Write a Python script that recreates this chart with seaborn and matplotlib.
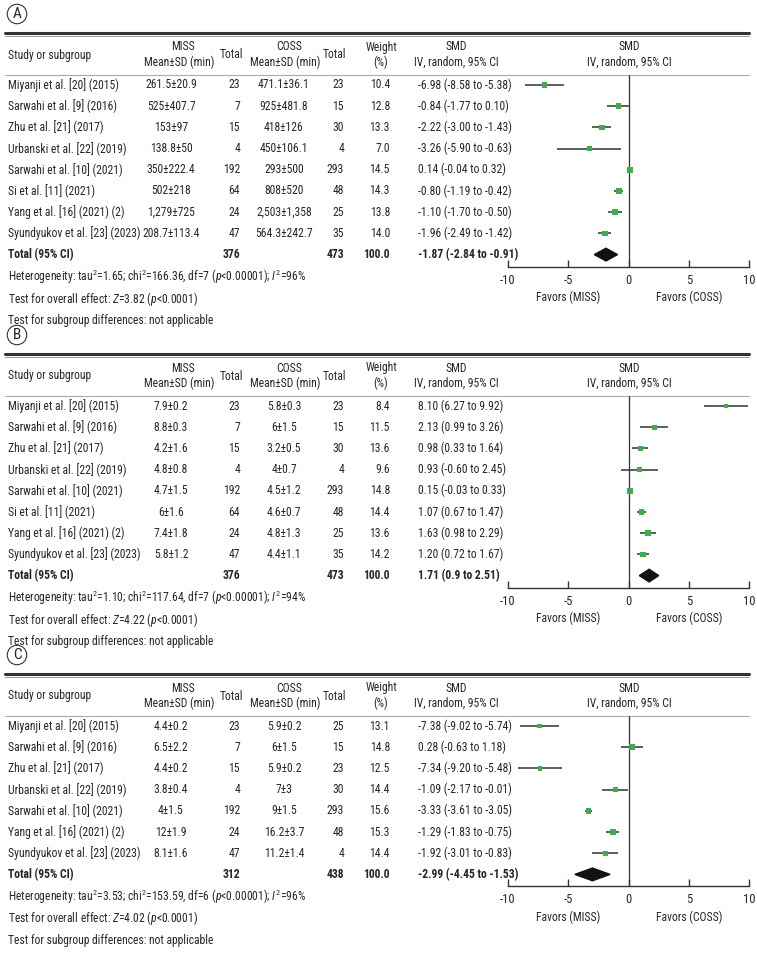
import matplotlib
matplotlib.use("Agg")
import matplotlib.pyplot as plt
from matplotlib import font_manager
import seaborn as sns
import pandas as pd

sns.set_theme(style="white")
installed = {f.name for f in font_manager.fontManager.ttflist}
if "Roboto Condensed" in installed:
    family, fs = "Roboto Condensed", 8.4
else:
    family, fs = "Roboto", 7.3
plt.rcParams["font.family"] = [family, "DejaVu Sans"]
plt.rcParams["mathtext.fontset"] = "custom"
plt.rcParams["mathtext.rm"] = family
plt.rcParams["mathtext.it"] = family + ":italic"

#%% data
studies8 = ["Miyanji et al. [20] (2015)", "Sarwahi et al. [9] (2016)", "Zhu et al. [21] (2017)",
            "Urbanski et al. [22] (2019)", "Sarwahi et al. [10] (2021)", "Si et al. [11] (2021)",
            "Yang et al. [16] (2021) (2)", "Syundyukov et al. [23] (2023)"]
studies7 = [s for s in studies8 if not s.startswith("Si ")]

# panel A
miss_a = ["261.5±20.9", "525±407.7", "153±97", "138.8±50", "350±222.4", "502±218", "1,279±725", "208.7±113.4"]
miss_n_a = [23, 7, 15, 4, 192, 64, 24, 47]
coss_a = ["471.1±36.1", "925±481.8", "418±126", "450±106.1", "293±500", "808±520", "2,503±1,358", "564.3±242.7"]
coss_n_a = [23, 15, 30, 4, 293, 48, 25, 35]
weight_a = [10.4, 12.8, 13.3, 7.0, 14.5, 14.3, 13.8, 14.0]
smd_a = [-6.98, -0.84, -2.22, -3.26, 0.14, -0.80, -1.10, -1.96]
lo_a = [-8.58, -1.77, -3.00, -5.90, -0.04, -1.19, -1.70, -2.49]
hi_a = [-5.38, 0.10, -1.43, -0.63, 0.32, -0.42, -0.50, -1.42]

# panel B
miss_b = ["7.9±0.2", "8.8±0.3", "4.2±1.6", "4.8±0.8", "4.7±1.5", "6±1.6", "7.4±1.8", "5.8±1.2"]
miss_n_b = [23, 7, 15, 4, 192, 64, 24, 47]
coss_b = ["5.8±0.3", "6±1.5", "3.2±0.5", "4±0.7", "4.5±1.2", "4.6±0.7", "4.8±1.3", "4.4±1.1"]
coss_n_b = [23, 15, 30, 4, 293, 48, 25, 35]
weight_b = [8.4, 11.5, 13.6, 9.6, 14.8, 14.4, 13.6, 14.2]
smd_b = [8.10, 2.13, 0.98, 0.93, 0.15, 1.07, 1.63, 1.20]
lo_b = [6.27, 0.99, 0.33, -0.60, -0.03, 0.67, 0.98, 0.72]
hi_b = [9.92, 3.26, 1.64, 2.45, 0.33, 1.47, 2.29, 1.67]

# panel C
miss_c = ["4.4±0.2", "6.5±2.2", "4.4±0.2", "3.8±0.4", "4±1.5", "12±1.9", "8.1±1.6"]
miss_n_c = [23, 7, 15, 4, 192, 24, 47]
coss_c = ["5.9±0.2", "6±1.5", "5.9±0.2", "7±3", "9±1.5", "16.2±3.7", "11.2±1.4"]
coss_n_c = [25, 15, 23, 30, 293, 48, 4]
weight_c = [13.1, 14.8, 12.5, 14.4, 15.6, 15.3, 14.4]
smd_c = [-7.38, 0.28, -7.34, -1.09, -3.33, -1.29, -1.92]
lo_c = [-9.02, -0.63, -9.20, -2.17, -3.61, -1.83, -3.01]
hi_c = [-5.74, 1.18, -5.48, -0.01, -3.05, -0.75, -0.83]

# totals
labels = ["A", "B", "C"]
tot_miss_n = [376, 376, 312]
tot_coss_n = [473, 473, 438]
tot_smd = [-1.87, 1.71, -2.99]
tot_lo = [-2.84, 0.9, -4.45]
tot_hi = [-0.91, 2.51, -1.53]
tot_text = ["-1.87 (-2.84 to -0.91)", "1.71 (0.9 to 2.51)", "-2.99 (-4.45 to -1.53)"]
tau2 = ["1.65", "1.10", "3.53"]
chi2 = ["166.36", "117.64", "153.59"]
dfs = [7, 7, 6]
i2 = [96, 94, 96]
zval = ["3.82", "4.22", "4.02"]

panels = [
    (studies8, miss_a, miss_n_a, coss_a, coss_n_a, weight_a, smd_a, lo_a, hi_a),
    (studies8, miss_b, miss_n_b, coss_b, coss_n_b, weight_b, smd_b, lo_b, hi_b),
    (studies7, miss_c, miss_n_c, coss_c, coss_n_c, weight_c, smd_c, lo_c, hi_c),
]

#%% layout (pixels)
W, H = 757, 965
offsets = [0, 321, 641]
step = 21.2
plot_l, plot_r = 508, 749
green = "#3dae4a"
dark = "#333333"

fig = plt.figure(figsize=(W / 100, H / 100), dpi=100)
bg = fig.add_axes([0, 0, 1, 1])
bg.set_xlim(0, W)
bg.set_ylim(H, 0)
bg.axis("off")

for p, (studies, miss, miss_n, coss, coss_n, weight, smd, lo, hi) in enumerate(panels):
    o = offsets[p]
    n = len(studies)
    row_y = lambda i: o + 85 + step * i

    # panel label
    bg.text(17, o + 14, labels[p], ha="center", va="center", fontsize=11, color="#222",
            bbox=dict(boxstyle="circle,pad=0.18", fc="white", ec="#333", lw=0.8))
    # rules
    bg.plot([5, plot_r], [o + 33, o + 33], color=dark, lw=2.2)
    bg.plot([5, plot_r], [o + 36, o + 36], color="#999999", lw=0.7)
    bg.plot([5, plot_r], [o + 75, o + 75], color="#aaaaaa", lw=0.8)

    # headers
    hy1, hy2, hym = o + 47, o + 62, o + 55
    bg.text(8, hym, "Study or subgroup", ha="left", va="center", fontsize=fs)
    bg.text(183, hy1, "MISS", ha="center", va="center", fontsize=fs)
    bg.text(179, hy2, "Mean±SD (min)", ha="center", va="center", fontsize=fs)
    bg.text(231, hym, "Total", ha="center", va="center", fontsize=fs)
    bg.text(289, hy1, "COSS", ha="center", va="center", fontsize=fs)
    bg.text(285, hy2, "Mean±SD (min)", ha="center", va="center", fontsize=fs)
    bg.text(334, hym, "Total", ha="center", va="center", fontsize=fs)
    bg.text(381, hy1, "Weight", ha="center", va="center", fontsize=fs)
    bg.text(381, hy2, "(%)", ha="center", va="center", fontsize=fs)
    bg.text(456, hy1, "SMD", ha="center", va="center", fontsize=fs)
    bg.text(456, hy2, "IV, random, 95% CI", ha="center", va="center", fontsize=fs)
    bg.text(629, hy1, "SMD", ha="center", va="center", fontsize=fs)
    bg.text(629, hy2, "IV, random, 95% CI", ha="center", va="center", fontsize=fs)

    # study rows
    for i in range(n):
        y = row_y(i)
        bg.text(8, y, studies[i], ha="left", va="center", fontsize=fs)
        bg.text(171, y, miss[i], ha="center", va="center", fontsize=fs)
        bg.text(240, y, str(miss_n[i]), ha="right", va="center", fontsize=fs)
        bg.text(284, y, coss[i], ha="center", va="center", fontsize=fs)
        bg.text(344, y, str(coss_n[i]), ha="right", va="center", fontsize=fs)
        bg.text(390, y, f"{weight[i]:.1f}", ha="right", va="center", fontsize=fs)
        bg.text(418, y, f"{smd[i]:.2f} ({lo[i]:.2f} to {hi[i]:.2f})", ha="left", va="center", fontsize=fs)

    # total row
    y = row_y(n)
    bg.text(8, y, "Total (95% CI)", ha="left", va="center", fontsize=fs, fontweight="bold")
    bg.text(240, y, str(tot_miss_n[p]), ha="right", va="center", fontsize=fs, fontweight="bold")
    bg.text(344, y, str(tot_coss_n[p]), ha="right", va="center", fontsize=fs, fontweight="bold")
    bg.text(390, y, "100.0", ha="right", va="center", fontsize=fs, fontweight="bold")
    bg.text(418, y, tot_text[p], ha="left", va="center", fontsize=fs, fontweight="bold")

    # footnotes
    bg.text(8, y + 22, r"Heterogeneity: tau$^{2}$=" + tau2[p] + r"; chi$^{2}$=" + chi2[p]
            + f", df={dfs[p]} (" + r"$\it{p}$<0.00001); $\it{I}^{2}$=" + f"{i2[p]}%",
            ha="left", va="center", fontsize=fs)
    bg.text(8, y + 44, r"Test for overall effect: $\it{Z}$=" + zval[p] + r" ($\it{p}$<0.0001)",
            ha="left", va="center", fontsize=fs)
    bg.text(8, y + 66, "Test for subgroup differences: not applicable",
            ha="left", va="center", fontsize=fs)

    # forest axes
    top_px = o + 75
    bot_px = row_y(n) + 12
    ax = fig.add_axes([plot_l / W, 1 - bot_px / H, (plot_r - plot_l) / W, (bot_px - top_px) / H])
    df = pd.DataFrame({"smd": smd, "lo": lo, "hi": hi, "weight": weight, "row": range(n)})
    ax.hlines(df["row"], df["lo"], df["hi"], color=dark, lw=1.1, zorder=2)
    sns.scatterplot(data=df, x="smd", y="row", size="weight", sizes=(11, 17), marker="s",
                    color=green, edgecolor="none", legend=False, ax=ax, zorder=3)
    ax.fill([tot_lo[p], tot_smd[p], tot_hi[p], tot_smd[p]], [n, n - 0.3, n, n + 0.3],
            color="#111111", zorder=3)
    ax.axvline(0, color=dark, lw=0.9, zorder=1)
    ax.set_xlim(-10, 10)
    ax.set_ylim(n + 12 / step, -10 / step)
    ax.set_facecolor("none")
    for s in ["top", "left", "right"]:
        ax.spines[s].set_visible(False)
    ax.spines["bottom"].set_color(dark)
    ax.spines["bottom"].set_linewidth(1.0)
    ax.set_xticks([-10, -5, 0, 5, 10])
    ax.set_xticklabels(["-10", "-5", "0", "5", "10"])
    ax.set_yticks([])
    ax.set_xlabel("")
    ax.set_ylabel("")
    ax.tick_params(axis="x", direction="in", length=5, width=1, color=dark, pad=5,
                   labelsize=fs + 0.6, bottom=True)
    for xv, lab in [(-5, "Favors (MISS)"), (5, "Favors (COSS)")]:
        ax.annotate(lab, xy=(xv, 0), xycoords=("data", "axes fraction"),
                    xytext=(0, -31 * 0.72), textcoords="offset points",
                    ha="center", va="center", fontsize=fs)

fig.savefig("out.png", dpi=100)
